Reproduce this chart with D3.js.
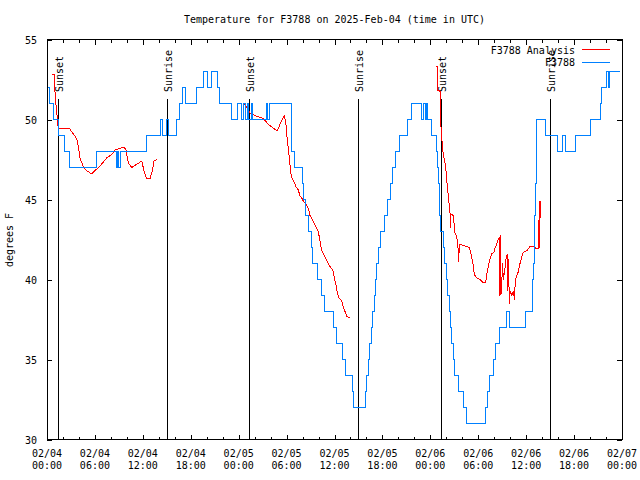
<!DOCTYPE html>
<html>
<head>
<meta charset="utf-8">
<script src="https://cdn.jsdelivr.net/npm/d3@7"></script>
<style>
  html, body { margin: 0; padding: 0; background: #fff; }
  svg { display: block; }
  text { font-family: "DejaVu Sans Mono", "Liberation Mono", monospace; font-size: 10px; fill: #000; }
</style>
</head>
<body>
<svg id="chart" width="640" height="480"></svg>
<script>
// ---------------- DATA ----------------
const chartTitle = "Temperature for F3788 on 2025-Feb-04 (time in UTC)";
const yAxisLabel = "degrees F";
const seriesNames = ["F3788 Analysis", "F3788"];
const startTime = Date.UTC(2025, 1, 4, 0, 0);   // 02/04 00:00 UTC
const endHours = 72;
const majorTickHours = [0, 6, 12, 18, 24, 30, 36, 42, 48, 54, 60, 66, 72];
const majorTickDates = ["02/04","02/04","02/04","02/04","02/05","02/05","02/05","02/05","02/06","02/06","02/06","02/06","02/07"];
const majorTickTimes = ["00:00","06:00","12:00","18:00","00:00","06:00","12:00","18:00","00:00","06:00","12:00","18:00","00:00"];
const yTicks = [30, 35, 40, 45, 50, 55];

// Sun events (hours after 02/04 00:00 UTC)
const sunEventHours = [1.42, 15.07, 25.33, 38.98, 49.38, 63.03];
const sunEventNames = ["Sunset", "Sunrise", "Sunset", "Sunrise", "Sunset", "Sunrise"];

// F3788 observations (hours after start, degrees F), step changes
const obsHours = [0.16,0.35,0.8,1.42,2.2,2.8,6.2,8.65,8.8,9.0,9.2,12.4,14.18,14.5,14.95,15.2,16.25,16.6,17.0,17.3,18.7,19.6,20.15,20.6,21.3,21.55,23.15,23.9,24.4,24.6,24.85,25.05,25.25,25.55,25.75,27.45,27.6,27.85,30.64,30.93,32.0,32.1,32.35,32.7,33.1,33.3,33.9,34.4,34.72,35.9,36.2,36.95,37.35,38.2,38.35,39.85,40.05,40.2,40.4,40.6,40.8,40.95,41.15,41.3,41.5,41.75,42.2,42.6,42.95,43.3,43.7,44.15,45.15,45.6,46.95,47.1,47.35,47.5,47.65,48.1,48.8,48.95,49.05,49.1,49.15,49.3,49.6,49.8,50.05,50.2,50.35,50.5,50.65,50.85,51.0,51.55,52.1,52.55,54.95,55.2,55.4,55.9,56.1,56.65,57.55,57.95,59.95,60.75,60.85,60.95,61.0,61.1,61.2,61.3,61.35,62.4,63.9,64.6,64.9,66.2,68.1,69.3,69.4,70.0,70.25,70.45,71.75];
const obsTemps = [52,51,50,49,48,47,48,47,48,47,48,49,50,49,50,49,50,51,52,51,52,53,52,53,52,51,50,51,50,51,50,51,50,51,50,51,50,51,48,47,46,45,44,43,42,41,40,39,38,37,36,35,34,33,32,33,34,35,36,37,38,39,40,41,42,43,44,45,46,47,48,49,50,51,50,51,50,51,50,49,48,47,46,45,44,43,42,41,40,39,38,37,36,35,34,33,32,31,32,33,34,35,36,37,38,37,38,39,40,41,42,44,46,48,50,49,48,49,48,49,50,51,52,53,52,53,53];

// F3788 Analysis (hours after start, degrees F); null = gap between runs
const anaHours = [0.59,0.91,1.04,1.21,1.41,2.79,3.29,3.72,3.92,4.13,4.55,4.97,5.6,6.01,6.64,7.48,8.1,8.51,9.14,9.64,9.89,10.18,10.6,11.23,11.86,12.15,12.48,12.9,13.19,13.4,13.74,
  14.0,
  24.56,24.87,25.21,25.42,26.26,27.09,27.71,28.34,28.84,29.18,29.51,29.71,29.89,30.09,30.3,30.52,30.64,30.93,31.18,31.47,31.68,31.89,32.09,32.43,32.72,32.93,33.15,33.35,33.56,33.77,33.97,34.19,34.4,34.6,35.02,35.44,35.78,35.94,36.19,36.35,36.6,36.9,37.1,37.32,37.53,37.85,
  38.0,
  48.67,48.87,48.93,49.21,49.27,49.42,49.55,49.75,49.92,50.05,50.17,50.34,50.46,50.53,50.59,50.88,51.0,51.09,51.3,51.5,51.55,51.63,52.34,52.88,53.05,53.26,53.38,53.51,53.81,54.22,54.63,54.93,55.06,55.26,55.47,55.69,55.97,56.1,56.31,56.51,56.64,56.67,56.74,56.81,56.94,57.01,57.16,57.37,57.48,57.64,57.7,57.79,57.89,57.98,58.19,58.39,58.54,58.64,58.81,59.02,59.23,59.44,59.64,60.07,60.48,60.9,61.23,61.58,61.63,61.69,61.76];
const anaTemps = [52.8,52.8,51.3,50.5,49.45,49.45,49.1,48.8,48.3,47.6,47.05,46.8,46.6,46.8,47.1,47.6,47.8,48.1,48.2,48.26,48.1,47.3,47.0,47.2,47.4,46.8,46.3,46.3,46.8,47.4,47.5,
  null,
  51.0,50.9,50.6,50.4,50.2,50.07,49.7,49.45,49.3,49.7,50.07,50.2,49.9,48.7,47.8,46.7,46.4,46.1,45.8,45.6,45.2,45.1,44.9,44.7,44.45,44.0,43.8,43.6,43.4,43.2,43.0,42.4,41.8,41.6,41.2,40.8,40.6,40.2,39.65,39.2,38.8,38.7,38.3,38.0,37.7,37.6,
  null,
  53.3,53.3,51.8,51.8,50.0,48.9,48.1,47.5,47.05,46.2,45.6,44.8,44.2,43.2,44.1,44.0,43.3,42.9,42.7,41.8,41.1,42.2,42.1,42.0,41.7,41.2,40.9,40.3,40.1,40.0,39.8,39.8,40.3,40.8,41.3,41.6,41.7,41.95,42.2,42.5,42.6,39.0,42.8,39.1,39.2,41.0,40.0,40.8,41.3,41.6,39.3,41.3,38.5,39.3,39.0,39.3,38.7,40.0,40.2,40.5,41.0,41.4,41.7,41.8,42.05,42.05,41.95,41.95,44.9,42.0,44.9];

const colors = { analysis: "#ff0000", obs: "#0080ff" };

// ---------------- CHART ----------------
const svg = d3.select("#chart");
const M = { left: 47, right: 622, top: 39.5, bottom: 439.5 };
const toDate = h => new Date(startTime + h * 3600e3);

const x = d3.scaleTime().domain([toDate(0), toDate(endHours)]).range([M.left, M.right]);
const y = d3.scaleLinear().domain([30, 55]).range([M.bottom, M.top]);

svg.append("rect").attr("width", 640).attr("height", 480).attr("fill", "#fff");

// minor x ticks (every 2 h) bottom & top
const minorHours = d3.range(0, endHours + 1, 2).filter(h => h % 6 !== 0);
const minorAxisB = d3.axisBottom(x).tickValues(minorHours.map(toDate)).tickSize(-3).tickFormat("");
const minorAxisT = d3.axisTop(x).tickValues(minorHours.map(toDate)).tickSize(-3).tickFormat("");
svg.append("g").attr("transform", `translate(0,${M.bottom})`).call(minorAxisB).call(g => g.select(".domain").remove());
svg.append("g").attr("transform", `translate(0,${M.top})`).call(minorAxisT).call(g => g.select(".domain").remove());

// major x ticks
const majorAxisB = d3.axisBottom(x).tickValues(majorTickHours.map(toDate)).tickSize(-5).tickFormat("");
const majorAxisT = d3.axisTop(x).tickValues(majorTickHours.map(toDate)).tickSize(-5).tickFormat("");
svg.append("g").attr("transform", `translate(0,${M.bottom})`).call(majorAxisB).call(g => g.select(".domain").remove());
svg.append("g").attr("transform", `translate(0,${M.top})`).call(majorAxisT).call(g => g.select(".domain").remove());

// two-line x labels
const xl = svg.append("g");
majorTickHours.forEach((h, i) => {
  const t = xl.append("text").attr("text-anchor", "middle").attr("x", x(toDate(h)));
  t.append("tspan").attr("x", x(toDate(h))).attr("y", 456.5).text(majorTickDates[i]);
  t.append("tspan").attr("x", x(toDate(h))).attr("y", 469).text(majorTickTimes[i]);
});

// y axis left & right
const yAxisL = d3.axisLeft(y).tickValues(yTicks).tickSize(-5).tickPadding(10).tickFormat(d3.format("d"));
const gyl = svg.append("g").attr("transform", `translate(${M.left},0)`).call(yAxisL);
gyl.select(".domain").remove();
gyl.selectAll("text").attr("dy", "0.35em");
const yAxisR = d3.axisRight(y).tickValues(yTicks).tickSize(-5).tickFormat("");
svg.append("g").attr("transform", `translate(${M.right},0)`).call(yAxisR).call(g => g.select(".domain").remove());

svg.selectAll(".tick line").attr("stroke", "#000").attr("shape-rendering", "crispEdges");
svg.selectAll(".tick text").style("font-family", "\"DejaVu Sans Mono\", monospace").style("font-size", "10px").attr("fill", "#000");

// sun event lines and labels
const sun = svg.append("g");
sunEventHours.forEach((h, i) => {
  const xx = Math.round(x(toDate(h))) + 0.5;
  sun.append("line").attr("x1", xx).attr("x2", xx).attr("y1", 99).attr("y2", M.bottom)
    .attr("stroke", "#000").attr("stroke-width", 1).attr("shape-rendering", "crispEdges");
  sun.append("text").attr("transform", `translate(${xx + 4},92) rotate(-90)`)
    .attr("text-anchor", "start").text(sunEventNames[i]);
});

// data lines
const anaData = anaHours.map((h, i) => ({ d: toDate(h), v: anaTemps[i] }));
const obsData = obsHours.map((h, i) => ({ d: toDate(h), v: obsTemps[i] }));

const anaLine = d3.line().defined(p => p.v !== null).x(p => x(p.d)).y(p => y(p.v));
const obsLine = d3.line().x(p => x(p.d)).y(p => y(p.v)).curve(d3.curveStepAfter);

svg.append("path").datum(anaData).attr("d", anaLine).attr("fill", "none")
  .attr("stroke", colors.analysis).attr("stroke-width", 1).attr("shape-rendering", "crispEdges");
svg.append("path").datum(obsData).attr("d", obsLine).attr("fill", "none")
  .attr("stroke", colors.obs).attr("stroke-width", 1).attr("shape-rendering", "crispEdges");

// frame
svg.append("rect").attr("x", M.left).attr("y", M.top).attr("width", M.right - M.left).attr("height", M.bottom - M.top)
  .attr("fill", "none").attr("stroke", "#000").attr("shape-rendering", "crispEdges");

// title
svg.append("text").attr("x", (M.left + M.right) / 2).attr("y", 23).attr("text-anchor", "middle").text(chartTitle);

// y label
svg.append("text").attr("transform", "translate(13,240) rotate(-90)").attr("text-anchor", "middle").text(yAxisLabel);

// legend
const lg = svg.append("g");
const legendColors = [colors.analysis, colors.obs];
seriesNames.forEach((n, i) => {
  const yy = 50 + i * 12.5;
  lg.append("text").attr("x", 575).attr("y", yy + 3.5).attr("text-anchor", "end").text(n);
  lg.append("line").attr("x1", 582).attr("x2", 610).attr("y1", yy - 0.5).attr("y2", yy - 0.5)
    .attr("stroke", legendColors[i]).attr("stroke-width", 1).attr("shape-rendering", "crispEdges");
});
</script>
</body>
</html>
